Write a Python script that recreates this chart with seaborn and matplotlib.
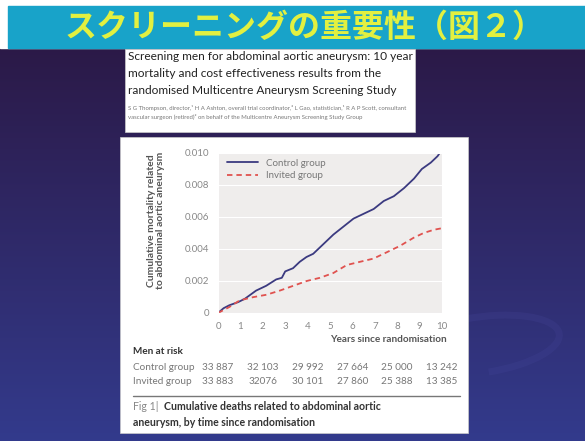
import numpy as np
import pandas as pd
import matplotlib
matplotlib.use("Agg")
import matplotlib.pyplot as plt
import matplotlib.patches as mpatches
import matplotlib.transforms as mtrans
from matplotlib.lines import Line2D
import seaborn as sns

# Valeurs
years_control = [0, 0.25, 0.5, 0.9, 1.2, 1.7, 2.15, 2.6, 2.85, 3.0, 3.35, 3.65,
                 3.95, 4.25, 4.55, 4.85, 5.15, 5.6, 6.05, 6.5, 6.95, 7.4, 7.85,
                 8.3, 8.75, 9.1, 9.5, 9.8, 9.9]
mort_control = [0, 0.0003, 0.00048, 0.00068, 0.00089, 0.0014, 0.0017, 0.0021,
                0.0022, 0.0026, 0.0028, 0.0032, 0.0035, 0.0037, 0.0041, 0.0045,
                0.0049, 0.0054, 0.0059, 0.0062, 0.0065, 0.0070, 0.0073, 0.0078,
                0.0084, 0.0090, 0.0094, 0.0098, 0.0100]
years_invited = [0, 0.5, 0.97, 1.57, 2.16, 2.76, 3.36, 3.96, 4.55, 5.15, 5.75,
                 6.34, 6.94, 7.54, 8.13, 8.73, 9.18, 9.63, 10.0]
mort_invited = [0, 0.00037, 0.00079, 0.00099, 0.00114, 0.0014, 0.0017, 0.0020,
                0.0022, 0.0025, 0.0030, 0.0032, 0.0034, 0.0038, 0.0042, 0.0047,
                0.0050, 0.0052, 0.0053]

groups = ["Control group", "Invited group"]
y_ticks = [0, 0.002, 0.004, 0.006, 0.008, 0.010]
y_tick_labels = ["0", "0.002", "0.004", "0.006", "0.008", "0.010"]
x_ticks = list(range(0, 11))

risk_years = [0, 2, 4, 6, 8, 10]
risk_control = ["33 887", "32 103", "29 992", "27 664", "25 000", "13 242"]
risk_invited = ["33 883", "32076", "30 101", "27 860", "25 388", "13 385"]

slide_title = "スクリーニングの重要性（図２）"
paper_title = ["Screening men for abdominal aortic aneurysm: 10 year",
               "mortality and cost effectiveness results from the",
               "randomised Multicentre Aneurysm Screening Study"]
paper_authors = ["S G Thompson, director,\u00b9 H A Ashton, overall trial coordinator,\u00b2 L Gao, statistician,\u00b9 R A P Scott, consultant",
                 "vascular surgeon (retired)\u00b2 on behalf of the Multicentre Aneurysm Screening Study Group"]

df = pd.concat([
    pd.DataFrame({"year": years_control, "mortality": mort_control, "group": groups[0]}),
    pd.DataFrame({"year": years_invited, "mortality": mort_invited, "group": groups[1]}),
])

sns.set_style("darkgrid", {"axes.facecolor": "#efedec", "grid.color": "white"})
plt.rcParams["font.family"] = ["Lato", "DejaVu Sans"]

W, H = 585, 441
fig = plt.figure(figsize=(W / 100, H / 100), dpi=100)


def fx(x):
    return x / W


def fy(y):
    return 1 - y / H


# fond du diapositive
bg = fig.add_axes([0, 0, 1, 1])
bg.set_xlim(0, W)
bg.set_ylim(H, 0)
bg.axis("off")
top = np.array([0.17, 0.10, 0.28])
bot = np.array([0.20, 0.23, 0.55])
t = np.linspace(0, 1, 200)[:, None, None]
grad = top * (1 - t) + bot * t
grad = np.repeat(grad, 2, axis=1)
bg.imshow(grad, extent=[0, W, H, 48], aspect="auto", zorder=0)
bg.add_patch(mpatches.Rectangle((0, 0), W, 48, color="white", zorder=1))
bg.add_patch(mpatches.Rectangle((8, 6), W - 8, 42, color="#18a3c9", zorder=2))
bg.add_patch(mpatches.Arc((480, 345), 160, 56, angle=-8, theta1=-110, theta2=80,
                          color="#4a4aa0", lw=5, alpha=0.2, zorder=1))
bg.text(305, 28, slide_title, ha="center", va="center", fontsize=23,
        fontweight="bold", color="#e2f040", family=["Noto Sans CJK JP"], zorder=3)

# encadré du titre de l'article
bg.add_patch(mpatches.Rectangle((125, 49), 290, 83, facecolor="white",
                                edgecolor="#cccccc", lw=0.5, zorder=2))
for i, line in enumerate(paper_title):
    bg.text(128, 57 + i * 16.5, line, ha="left", va="center", fontsize=8.6,
            color="#222222", zorder=3)
for i, line in enumerate(paper_authors):
    bg.text(128, 108 + i * 9.5, line, ha="left", va="center", fontsize=4.3,
            color="#777777", zorder=3)

# encadré du graphique
bg.add_patch(mpatches.Rectangle((120, 137), 348, 296, facecolor="white",
                                edgecolor="#cccccc", lw=0.5, zorder=2))
bg.plot([133, 460], [396, 396], color="#777777", lw=1.0, zorder=3)
bg.text(133, 406, "Fig 1|", ha="left", va="center", fontsize=7.6,
        color="#888888", zorder=3)
bg.text(164, 406, "Cumulative deaths related to abdominal aortic", ha="left",
        va="center", fontsize=7.6, fontweight="bold", color="#333333", zorder=3)
bg.text(133, 423, "aneurysm, by time since randomisation", ha="left",
        va="center", fontsize=7.6, fontweight="bold", color="#333333", zorder=3)

# courbe
ax = fig.add_axes([fx(218), fy(313), fx(442) - fx(218), (313 - 153) / H])
palette = {groups[0]: "#3b3a80", groups[1]: "#e0524f"}
sns.lineplot(data=df, x="year", y="mortality", hue="group", style="group",
             palette=palette, dashes={groups[0]: "", groups[1]: (3, 2.2)},
             estimator=None, sort=False, legend=False, lw=1.3, ax=ax)
ax.set_xlim(0, 10)
ax.set_ylim(0, 0.010)
ax.set_xticks(x_ticks)
ax.set_yticks(y_ticks)
ax.set_yticklabels(y_tick_labels)
ax.grid(axis="x", visible=False)
ax.tick_params(axis="both", labelsize=7, labelcolor="#888888", pad=3)
ax.set_xlabel("")
ax.set_ylabel("Cumulative mortality related\nto abdominal aortic aneurysm",
              fontsize=7.5, fontweight="bold", color="#555555", linespacing=1.0)
ax.yaxis.set_label_coords(-0.235, 0.58)

handles = [Line2D([], [], color=palette[groups[0]], lw=1.3),
           Line2D([], [], color=palette[groups[1]], lw=1.3, dashes=(3, 2.2))]
ax.legend(handles, groups, loc="upper left", bbox_to_anchor=(0.0, 1.02),
          frameon=False, fontsize=7, labelcolor="#777777", handlelength=3.2,
          labelspacing=0.35)

# effectifs à risque
blend = mtrans.blended_transform_factory(ax.transData, fig.transFigure)
fig.text(fx(447), fy(339), "Years since randomisation", ha="right", va="center",
         fontsize=7.2, fontweight="bold", color="#555555")
fig.text(fx(133), fy(351), "Men at risk", ha="left", va="center", fontsize=7.2,
         fontweight="bold", color="#333333")
for label, row, y in [(groups[0], risk_control, 367), (groups[1], risk_invited, 381)]:
    fig.text(fx(133), fy(y), label, ha="left", va="center", fontsize=7.2,
             color="#777777")
    for yr, val in zip(risk_years, row):
        ax.text(yr, fy(y), val, transform=blend, ha="center", va="center",
                fontsize=7.2, color="#777777", clip_on=False)

fig.savefig("out.png", dpi=100)
